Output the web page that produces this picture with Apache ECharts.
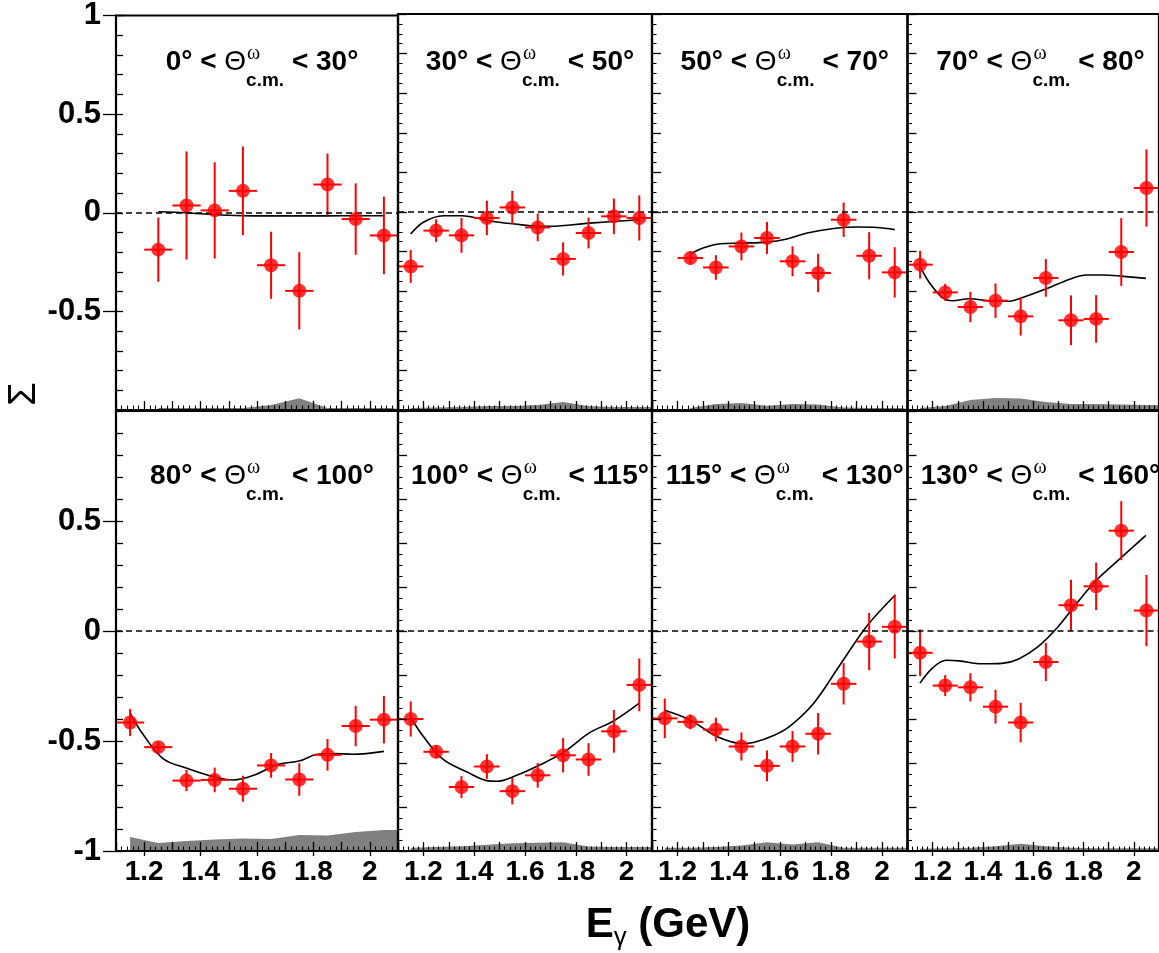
<!DOCTYPE html>
<html><head><meta charset="utf-8">
<script src="https://cdn.jsdelivr.net/npm/echarts@6/dist/echarts.min.js"></script>
<style>html,body{margin:0;padding:0;background:#fff}#c{width:1159px;height:953px}</style>
</head><body><div id="c"></div>
<script>
// ---------------- DATA ----------------
const angleRanges = [[0,30],[30,50],[50,70],[70,80],[80,100],[100,115],[115,130],[130,160]];
const xTickLabels = [1.2, 1.4, 1.6, 1.8, 2];
const yTickLabelsTop = [-0.5, 0, 0.5, 1];
const yTickLabelsBottom = [-1, -0.5, 0, 0.5];
const BIN_HALF = 0.05;

const E1 = [1.25,1.35,1.45,1.55,1.65,1.75,1.85,1.95,2.05];
const S1 = [-0.187,0.037,0.012,0.111,-0.266,-0.396,0.143,-0.032,-0.115];
const dS1 = [0.163,0.274,0.244,0.225,0.170,0.196,0.157,0.181,0.197];
const fitE1 = [1.25,1.35,1.45,1.55,1.65,1.75,1.85,1.95,2.05];
const fitS1 = [0.005,0.0,-0.010,-0.015,-0.016,-0.016,-0.016,-0.015,-0.015];
const sys1 = [0.01,0.01,0.01,0.01,0.025,0.06,0.01,0.01,0.01];

const E2 = [1.15,1.25,1.35,1.45,1.55,1.65,1.75,1.85,1.95,2.05];
const S2 = [-0.275,-0.094,-0.118,-0.030,0.023,-0.078,-0.237,-0.106,-0.022,-0.030];
const dS2 = [0.083,0.057,0.088,0.087,0.084,0.070,0.084,0.078,0.090,0.114];
const fitE2 = [1.15,1.2,1.278,1.35,1.468,1.56,1.65,1.70,1.855,2.05];
const fitS2 = [-0.111,-0.052,-0.019,-0.019,-0.047,-0.061,-0.072,-0.072,-0.056,-0.039];
const sys2 = [0.01,0.012,0.015,0.02,0.02,0.025,0.04,0.02,0.015,0.015];

const E3 = [1.25,1.35,1.45,1.55,1.65,1.75,1.85,1.95,2.05];
const S3 = [-0.232,-0.280,-0.174,-0.131,-0.249,-0.308,-0.039,-0.221,-0.305];
const dS3 = [0.034,0.062,0.070,0.081,0.076,0.097,0.087,0.119,0.127];
const fitE3 = [1.25,1.30,1.367,1.45,1.55,1.628,1.707,1.811,1.903,1.981,2.05];
const fitS3 = [-0.212,-0.182,-0.160,-0.157,-0.152,-0.136,-0.106,-0.083,-0.076,-0.078,-0.089];
const sys3 = [0.01,0.03,0.035,0.022,0.03,0.028,0.012,0.01,0.01];

const E4 = [1.15,1.25,1.35,1.45,1.55,1.65,1.75,1.85,1.95,2.05];
const S4 = [-0.266,-0.406,-0.480,-0.448,-0.527,-0.333,-0.547,-0.540,-0.202,0.121];
const dS4 = [0.070,0.043,0.077,0.087,0.097,0.095,0.126,0.120,0.171,0.195];
const fitE4 = [1.15,1.188,1.24,1.279,1.344,1.449,1.50,1.553,1.644,1.748,1.813,1.879,1.957,2.048];
const fitS4 = [-0.275,-0.359,-0.434,-0.448,-0.438,-0.451,-0.451,-0.434,-0.392,-0.338,-0.318,-0.318,-0.325,-0.335];
const sys4 = [0.01,0.02,0.05,0.06,0.058,0.04,0.03,0.03,0.028,0.025];

const E5 = [1.15,1.25,1.35,1.45,1.55,1.65,1.75,1.85,1.95,2.05];
const S5 = [-0.416,-0.528,-0.680,-0.677,-0.717,-0.611,-0.675,-0.563,-0.432,-0.403];
const dS5 = [0.062,0.025,0.048,0.056,0.059,0.056,0.074,0.072,0.092,0.108];
const fitE5 = [1.15,1.197,1.268,1.351,1.45,1.517,1.588,1.671,1.752,1.814,1.87,1.94,2.05];
const fitS5 = [-0.373,-0.472,-0.581,-0.624,-0.664,-0.677,-0.656,-0.608,-0.590,-0.560,-0.557,-0.560,-0.547];
const sys5 = [0.064,0.036,0.045,0.052,0.057,0.055,0.073,0.070,0.086,0.095];

const E6 = [1.15,1.25,1.35,1.45,1.55,1.65,1.75,1.85,1.95,2.05];
const S6 = [-0.400,-0.549,-0.709,-0.616,-0.728,-0.656,-0.565,-0.584,-0.456,-0.245];
const dS6 = [0.080,0.030,0.050,0.056,0.060,0.056,0.078,0.074,0.097,0.120];
const fitE6 = [1.15,1.2,1.278,1.37,1.449,1.489,1.567,1.66,1.751,1.852,1.95,2.05];
const fitS6 = [-0.392,-0.480,-0.584,-0.640,-0.680,-0.683,-0.656,-0.608,-0.552,-0.464,-0.408,-0.328];
const sys6 = [0.015,0.018,0.022,0.028,0.035,0.038,0.04,0.02,0.018,0.018];

const E7 = [1.15,1.25,1.35,1.45,1.55,1.65,1.75,1.85,1.95,2.05];
const S7 = [-0.397,-0.413,-0.448,-0.525,-0.613,-0.525,-0.467,-0.240,-0.048,0.019];
const dS7 = [0.090,0.034,0.054,0.064,0.070,0.070,0.094,0.094,0.130,0.144];
const fitE7 = [1.15,1.25,1.354,1.455,1.497,1.576,1.64,1.733,1.837,1.942,2.053];
const fitS7 = [-0.360,-0.405,-0.480,-0.512,-0.507,-0.475,-0.432,-0.328,-0.152,0.024,0.165];
const sys7 = [0.015,0.015,0.018,0.025,0.04,0.03,0.04,0.015,0.015,0.015];

const E8 = [1.15,1.25,1.35,1.45,1.55,1.65,1.75,1.85,1.95,2.05];
const S8 = [-0.099,-0.248,-0.256,-0.344,-0.416,-0.141,0.117,0.203,0.456,0.093];
const dS8 = [0.106,0.048,0.064,0.077,0.090,0.087,0.116,0.108,0.134,0.162];
const fitE8 = [1.15,1.2,1.253,1.305,1.396,1.475,1.54,1.618,1.696,1.774,1.852,1.944,2.048];
const fitS8 = [-0.237,-0.168,-0.133,-0.136,-0.149,-0.147,-0.128,-0.072,0.016,0.128,0.232,0.328,0.435];
const sys8 = [0.01,0.012,0.015,0.022,0.033,0.022,0.015,0.012,0.012,0.012];

// ---------------- LAYOUT ----------------
const X_MIN = 1.1, X_MAX = 2.1, Y_MIN = -1, Y_MAX = 1;
const COLS = [{left:116,width:282},{left:398,width:254},{left:652,width:255.5},{left:907.5,width:256}];
const ROWS = [{top:14,height:396,titleY:62},{top:411,height:440,titleY:476}];
const FONT = '"Liberation Sans", Arial, Helvetica, sans-serif';

const panels = [
  [E1,S1,dS1,fitE1,fitS1,sys1],[E2,S2,dS2,fitE2,fitS2,sys2],[E3,S3,dS3,fitE3,fitS3,sys3],[E4,S4,dS4,fitE4,fitS4,sys4],
  [E5,S5,dS5,fitE5,fitS5,sys5],[E6,S6,dS6,fitE6,fitS6,sys6],[E7,S7,dS7,fitE7,fitS7,sys7],[E8,S8,dS8,fitE8,fitS8,sys8]
];

const grids = [], xAxes = [], yAxes = [], series = [], graphics = [];
const mctx = document.createElement('canvas').getContext('2d');
function tw(text, font){ mctx.font = font; return mctx.measureText(text).width; }

panels.forEach((p, i) => {
  const row = Math.floor(i/4), col = i%4;
  const C = COLS[col], R = ROWS[row];
  grids.push({left:C.left, top:R.top, width:C.width, height:R.height, show:true,
    borderColor:'#000', borderWidth:2.2, backgroundColor:'transparent', containLabel:false, z:10});
  // inner ticks x
  xAxes.push({gridIndex:i, type:'value', min:X_MIN, max:X_MAX, interval:0.1, position:'bottom', z:10,
    axisLine:{show:false, onZero:false}, splitLine:{show:false}, axisLabel:{show:false},
    axisTick:{show:true, inside:true, length:9, lineStyle:{color:'#000', width:1.3}},
    minorTick:{show:true, splitNumber:5, length:4.5, lineStyle:{color:'#000', width:1.1}}});
  // labelled x axis (bottom row)
  xAxes.push({gridIndex:i, type:'value', min:X_MIN, max:X_MAX, position:'bottom', z:10,
    axisLine:{show:false, onZero:false}, splitLine:{show:false},
    axisTick:{show:row===1, inside:false, length:5, customValues:xTickLabels, lineStyle:{color:'#000', width:1.3}},
    axisLabel:{show:row===1, customValues:xTickLabels, margin:7, fontSize:28, fontWeight:'bold', fontFamily:FONT, color:'#000',
      formatter: v => String(Math.round(v*10)/10)}});
  // inner ticks y
  yAxes.push({gridIndex:i, type:'value', min:Y_MIN, max:Y_MAX, interval: col===0 ? 0.1 : 0.2, position:'left', z:10,
    axisLine:{show:false, onZero:false}, splitLine:{show:false}, axisLabel:{show:false},
    axisTick:{show:true, inside:true, length: col===0 ? 7 : 9, lineStyle:{color:'#000', width:1.3}},
    minorTick:{show: col!==0, splitNumber:4, length:4.5, lineStyle:{color:'#000', width:1.1}}});
  const yl = row===0 ? yTickLabelsTop : yTickLabelsBottom;
  yAxes.push({gridIndex:i, type:'value', min:Y_MIN, max:Y_MAX, position:'left', z:10,
    axisLine:{show:false, onZero:false}, splitLine:{show:false},
    axisTick:{show:col===0, inside:false, length:13, customValues:yl, lineStyle:{color:'#000', width:1.3}},
    axisLabel:{show:col===0, customValues:yl, margin:15, fontSize:31, fontWeight:'bold', fontFamily:FONT, color:'#000',
      formatter: v => String(v)}});

  const [E, S, dS, fE, fS, sys] = p;
  const xi = 2*i, yi = 2*i;
  const band = E.map((e,k) => [e, Y_MIN + sys[k]]);
  band.push([X_MAX, Y_MIN + sys[sys.length-1]]);
  series.push({type:'line', xAxisIndex:xi, yAxisIndex:yi, data:band, symbol:'none', silent:true, z:1,
    lineStyle:{width:0}, areaStyle:{color:'#808080', opacity:1, origin:'start'},
    markLine:{silent:true, symbol:['none','none'], label:{show:false}, animation:false,
      lineStyle:{type:[6,4], color:'#000', width:1.5}, data:[{yAxis:0}]}});
  series.push({type:'line', xAxisIndex:xi, yAxisIndex:yi, data:fE.map((e,k)=>[e,fS[k]]), symbol:'none',
    smooth:0.35, lineStyle:{color:'#000', width:1.6}, z:3, silent:true});
  series.push({type:'custom', xAxisIndex:xi, yAxisIndex:yi, data:E.map((e,k)=>[e,S[k],dS[k]]), z:4, silent:true,
    encode:{x:0, y:1},
    renderItem(params, api){
      const x = api.value(0), y = api.value(1), d = api.value(2);
      const c = api.coord([x,y]), t = api.coord([x,y+d]), b = api.coord([x,y-d]);
      const l = api.coord([x-BIN_HALF,y]), r = api.coord([x+BIN_HALF,y]);
      return {type:'group', children:[
        {type:'line', shape:{x1:c[0],y1:t[1],x2:c[0],y2:b[1]}, style:{stroke:'#ff0000', lineWidth:2}},
        {type:'line', shape:{x1:l[0],y1:c[1],x2:r[0],y2:c[1]}, style:{stroke:'#ff0000', lineWidth:2}}
      ]};
    }});
  series.push({type:'scatter', xAxisIndex:xi, yAxisIndex:yi, data:E.map((e,k)=>[e,S[k]]), symbol:'circle',
    symbolSize:14, itemStyle:{color:'#ff0000'}, z:5, silent:true});

  // panel title: a° < Θ^ω_c.m. < b°
  const fMain = 'bold 28px ' + FONT, fTheta = '28px ' + FONT, fSub = 'bold 19px ' + FONT;
  const [a, b] = angleRanges[i];
  const p1 = a + '° < ', p2 = ' < ' + b + '°';
  const w1 = tw(p1, fMain), wT = tw('Θ', fTheta), wS = tw('c.m.', fSub), w2 = tw(p2, fMain);
  const total = w1 + wT + wS + w2;
  const x0 = C.left + C.width/2 + 5 - total/2;
  const yc = R.titleY;
  const txt = (text, x, y, fs, fw, ff) => graphics.push({type:'text', x, y, silent:true, z:20,
    style:{text, fontSize:fs, fontWeight:fw, fontFamily:ff, fill:'#000', align:'left', verticalAlign:'middle'}});
  txt(p1, x0, yc, 28, 'bold', FONT);
  txt('Θ', x0 + w1, yc, 28, 'normal', FONT);
  txt('ω', x0 + w1 + wT + 1, yc - 8, 20, 'normal', '"Liberation Serif", serif');
  txt('c.m.', x0 + w1 + wT, yc + 19, 19, 'bold', FONT);
  txt(p2, x0 + w1 + wT + wS, yc, 28, 'bold', FONT);
});

// axis titles
graphics.push({type:'text', x:25, y:394, rotation:Math.PI/2, silent:true,
  style:{text:'Σ', fontSize:38, fontFamily:FONT, fill:'#000', align:'center', verticalAlign:'middle'}});
(function(){
  const fE = 'bold 42px ' + FONT, fG = '26px ' + FONT;
  const wE = tw('E', fE), wG = tw('γ', fG), wR = tw(' (GeV)', fE);
  const x0 = 668 - (wE + wG + wR)/2, yc = 925;
  graphics.push({type:'text', x:x0, y:yc, silent:true, style:{text:'E', fontSize:42, fontWeight:'bold', fontFamily:FONT, fill:'#000', align:'left', verticalAlign:'middle'}});
  graphics.push({type:'text', x:x0+wE, y:yc+13, silent:true, style:{text:'γ', fontSize:26, fontFamily:FONT, fill:'#000', align:'left', verticalAlign:'middle'}});
  graphics.push({type:'text', x:x0+wE+wG, y:yc, silent:true, style:{text:' (GeV)', fontSize:42, fontWeight:'bold', fontFamily:FONT, fill:'#000', align:'left', verticalAlign:'middle'}});
})();

const chart = echarts.init(document.getElementById('c'), null, {renderer:'canvas'});
chart.setOption({animation:false, backgroundColor:'#fff', grid:grids, xAxis:xAxes, yAxis:yAxes, series, graphic:graphics});
</script></body></html>
